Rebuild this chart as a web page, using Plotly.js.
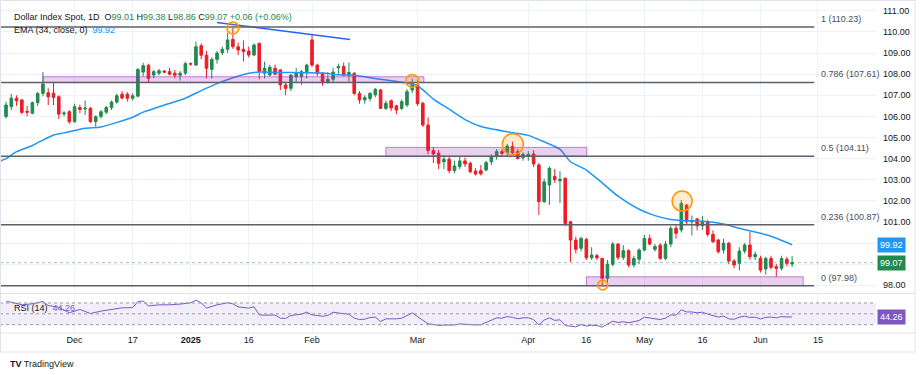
<!DOCTYPE html>
<html>
<head>
<meta charset="utf-8">
<script src="https://cdn.plot.ly/plotly-3.0.1.min.js"></script>
<style>html,body{margin:0;padding:0;background:#fff;}#chart{width:921px;height:375px;}</style>
</head>
<body>
<div id="chart"></div>
<script>
// ---------- DATA ----------
const dates = ["2024-11-13","2024-11-14","2024-11-15","2024-11-18","2024-11-19","2024-11-20","2024-11-21","2024-11-22","2024-11-25","2024-11-26","2024-11-27","2024-11-28","2024-11-29",
"2024-12-02","2024-12-03","2024-12-04","2024-12-05","2024-12-06","2024-12-09","2024-12-10","2024-12-11","2024-12-12","2024-12-13","2024-12-16","2024-12-17","2024-12-18","2024-12-19","2024-12-20","2024-12-23","2024-12-24","2024-12-25","2024-12-26","2024-12-27","2024-12-30","2024-12-31",
"2025-01-01","2025-01-02","2025-01-03","2025-01-06","2025-01-07","2025-01-08","2025-01-09","2025-01-10","2025-01-13","2025-01-14","2025-01-15","2025-01-16","2025-01-17","2025-01-20","2025-01-21","2025-01-22","2025-01-23","2025-01-24","2025-01-27","2025-01-28","2025-01-29","2025-01-30","2025-01-31",
"2025-02-03","2025-02-04","2025-02-05","2025-02-06","2025-02-07","2025-02-10","2025-02-11","2025-02-12","2025-02-13","2025-02-14","2025-02-17","2025-02-18","2025-02-19","2025-02-20","2025-02-21","2025-02-24","2025-02-25","2025-02-26","2025-02-27","2025-02-28",
"2025-03-03","2025-03-04","2025-03-05","2025-03-06","2025-03-07","2025-03-10","2025-03-11","2025-03-12","2025-03-13","2025-03-14","2025-03-17","2025-03-18","2025-03-19","2025-03-20","2025-03-21","2025-03-24","2025-03-25","2025-03-26","2025-03-27","2025-03-28","2025-03-31",
"2025-04-01","2025-04-02","2025-04-03","2025-04-04","2025-04-07","2025-04-08","2025-04-09","2025-04-10","2025-04-11","2025-04-14","2025-04-15","2025-04-16","2025-04-17","2025-04-18","2025-04-21","2025-04-22","2025-04-23","2025-04-24","2025-04-25","2025-04-28","2025-04-29","2025-04-30",
"2025-05-01","2025-05-02","2025-05-05","2025-05-06","2025-05-07","2025-05-08","2025-05-09","2025-05-12","2025-05-13","2025-05-14","2025-05-15","2025-05-16","2025-05-19","2025-05-20","2025-05-21","2025-05-22","2025-05-23","2025-05-26","2025-05-27","2025-05-28","2025-05-29","2025-05-30",
"2025-06-02","2025-06-03","2025-06-04","2025-06-05","2025-06-06","2025-06-09","2025-06-10"];

const open = [105.99,106.46,106.86,106.78,106.24,106.15,106.65,107.09,107.12,107.10,106.93,106.12,106.22,
105.75,106.42,106.35,106.38,105.75,106.00,106.20,106.42,106.68,107.05,107.05,106.86,106.96,108.10,108.42,107.96,108.05,108.15,108.12,108.05,107.95,108.05,
108.50,108.43,109.35,108.90,108.23,108.70,109.02,109.18,109.65,109.30,109.18,109.10,108.91,109.46,108.04,107.96,108.28,108.20,107.49,107.33,107.88,107.88,108.12,
109.62,108.43,108.04,107.64,107.76,108.30,108.36,107.96,108.04,107.09,106.78,106.85,107.02,107.25,106.38,106.74,106.50,106.38,106.54,107.25,
107.50,106.62,105.59,104.38,104.25,103.85,103.97,103.43,103.62,103.89,103.78,103.41,103.43,103.46,103.85,104.09,104.33,104.28,104.57,104.33,104.04,
104.10,104.22,103.70,101.96,102.75,103.15,102.95,103.07,101.01,100.14,99.75,100.17,99.30,99.40,99.27,98.33,98.99,99.95,99.32,99.64,98.96,99.23,
99.67,100.22,99.70,99.90,99.27,99.95,100.70,100.62,101.80,101.00,101.14,100.82,101.01,100.41,100.14,99.67,99.99,99.15,99.04,99.62,99.91,99.35,
99.27,98.77,99.27,98.88,98.80,99.23,99.01];

const high = [106.70,107.07,107.00,106.82,106.50,106.70,107.15,108.10,107.33,107.60,107.00,106.25,106.30,
106.60,106.55,106.75,106.45,106.05,106.30,106.50,106.75,107.08,107.20,107.15,107.10,108.28,108.54,108.50,108.20,108.25,108.20,108.30,108.20,108.15,108.60,
108.55,109.55,109.45,109.10,108.80,109.10,109.30,109.96,110.20,109.50,109.60,109.30,109.46,109.50,108.60,108.45,108.45,108.25,107.60,108.00,108.30,108.20,108.50,
109.86,108.50,108.10,108.10,108.30,108.50,108.55,108.55,108.10,107.20,107.00,107.15,107.35,107.30,106.75,106.80,106.55,106.80,107.30,107.78,
107.70,106.70,105.95,104.55,104.40,104.15,104.10,103.90,104.10,104.05,103.85,103.55,103.70,103.90,104.20,104.45,104.45,104.70,104.80,104.45,104.30,
104.35,104.40,103.80,103.05,103.63,103.50,103.40,103.10,101.05,100.30,100.30,100.25,99.80,99.50,99.30,99.20,100.05,100.00,99.90,99.70,99.40,99.75,
100.38,100.40,99.95,100.00,100.10,100.80,100.85,102.04,101.85,101.30,101.20,101.29,101.10,100.60,100.20,100.20,100.05,99.25,99.80,100.00,100.54,99.60,
99.40,99.35,99.40,99.00,99.40,99.35,99.38];

const low = [105.90,106.30,106.50,106.10,106.00,106.10,106.50,106.95,106.54,106.54,105.88,106.00,105.65,
105.70,106.15,106.07,105.70,105.51,105.90,106.10,106.30,106.60,106.80,106.70,106.75,106.90,107.90,107.60,107.80,107.95,108.05,107.95,107.80,107.70,107.95,
108.40,108.40,108.70,107.80,107.80,108.50,108.90,109.00,109.20,108.90,108.60,108.80,108.85,107.75,107.80,107.90,107.95,107.25,107.00,107.20,107.60,107.50,107.80,
108.35,107.90,107.45,107.55,107.60,108.00,107.90,107.65,107.00,106.60,106.60,106.70,106.90,106.35,106.30,106.25,106.10,106.30,106.45,107.10,
106.50,105.50,104.20,103.79,103.50,103.50,103.30,103.30,103.50,103.60,103.30,103.20,103.20,103.40,103.70,103.95,104.10,104.10,104.20,103.95,103.90,
103.90,103.60,101.33,101.90,101.80,102.85,101.90,100.80,99.11,99.50,99.60,99.20,99.20,99.20,98.00,98.10,98.90,99.20,99.20,98.85,98.85,99.00,
99.60,99.90,99.60,99.20,99.20,99.80,100.20,100.50,100.90,100.35,100.60,100.62,100.30,100.00,99.50,99.50,99.00,98.80,98.70,99.50,99.20,99.20,
98.60,98.50,98.75,98.40,98.70,98.90,98.86];

const close = [106.54,106.86,106.74,106.19,106.20,106.65,107.09,107.54,106.93,106.90,106.11,106.16,105.75,
106.46,106.33,106.39,105.75,105.99,106.22,106.42,106.68,106.98,106.87,106.86,106.98,108.23,108.40,107.80,108.12,108.16,108.10,108.00,107.95,108.05,108.50,
108.48,109.30,108.90,108.28,108.70,109.00,109.18,109.62,109.30,109.15,109.07,108.91,109.38,108.12,108.28,108.33,108.00,107.49,107.33,107.96,108.04,108.12,108.43,
108.43,108.04,107.64,107.76,108.10,108.36,107.96,108.08,107.09,106.78,106.90,107.09,107.28,106.38,106.62,106.40,106.30,106.70,107.17,107.57,
106.60,105.59,104.38,104.22,103.78,103.97,103.43,103.65,103.89,103.75,103.38,103.27,103.28,103.81,104.09,104.33,104.25,104.60,104.28,104.01,104.20,
104.20,103.75,101.96,102.90,103.54,103.00,103.02,100.93,100.14,99.70,100.22,99.30,99.43,99.30,98.33,98.99,99.95,99.32,99.64,98.96,99.27,99.67,
100.22,99.95,99.83,99.27,99.95,100.70,100.46,101.88,101.01,101.06,100.82,101.04,100.41,100.06,99.59,99.99,99.15,98.96,99.62,99.91,99.35,99.46,
98.72,99.27,98.85,98.80,99.27,99.04,99.07];

const emaDates = ["2024-11-11","2024-11-13","2024-11-15","2024-11-20","2024-11-26","2024-11-28","2024-12-04","2024-12-09","2024-12-17","2024-12-19","2024-12-25","2024-12-31",
"2025-01-03","2025-01-08","2025-01-13","2025-01-16","2025-01-20","2025-01-24","2025-01-30","2025-02-05","2025-02-10","2025-02-13","2025-02-19","2025-02-26",
"2025-03-03","2025-03-06","2025-03-11","2025-03-14","2025-03-19","2025-03-26","2025-04-01","2025-04-03","2025-04-09","2025-04-11","2025-04-16","2025-04-21",
"2025-04-24","2025-04-30","2025-05-05","2025-05-08","2025-05-13","2025-05-16","2025-05-20","2025-05-22","2025-05-27","2025-05-30","2025-06-04","2025-06-10"];
const emaValues = [103.80,104.00,104.33,104.62,105.12,105.22,105.44,105.50,105.96,106.20,106.54,106.86,
107.22,107.55,107.83,108.04,108.10,108.08,108.07,108.06,107.97,107.95,107.80,107.62,
107.45,106.82,106.34,105.85,105.52,105.27,105.10,104.90,104.44,103.85,103.46,102.85,
102.22,101.60,101.30,101.12,101.06,101.03,100.98,100.90,100.70,100.52,100.32,99.92];

const rsiDates = ["2024-11-13","2024-11-14","2024-11-18","2024-11-20","2024-11-22","2024-11-25","2024-11-27","2024-11-29","2024-12-03","2024-12-05","2024-12-09","2024-12-11","2024-12-13","2024-12-17","2024-12-18","2024-12-19","2024-12-20","2024-12-24","2024-12-26","2024-12-30","2024-12-31",
"2025-01-01","2025-01-02","2025-01-03","2025-01-06","2025-01-07","2025-01-08","2025-01-10","2025-01-13","2025-01-14","2025-01-15","2025-01-16","2025-01-17","2025-01-20","2025-01-21","2025-01-22","2025-01-23","2025-01-24","2025-01-27","2025-01-28","2025-01-29","2025-01-30","2025-01-31",
"2025-02-03","2025-02-04","2025-02-05","2025-02-06","2025-02-07","2025-02-10","2025-02-11","2025-02-12","2025-02-13","2025-02-14","2025-02-17","2025-02-18","2025-02-19","2025-02-20","2025-02-21","2025-02-24","2025-02-25","2025-02-26","2025-02-27","2025-02-28",
"2025-03-03","2025-03-04","2025-03-05","2025-03-06","2025-03-07","2025-03-10","2025-03-11","2025-03-12","2025-03-13","2025-03-14","2025-03-17","2025-03-18","2025-03-19","2025-03-20","2025-03-21","2025-03-24","2025-03-25","2025-03-26","2025-03-27","2025-03-28","2025-03-31",
"2025-04-01","2025-04-02","2025-04-03","2025-04-04","2025-04-07","2025-04-08","2025-04-09","2025-04-10","2025-04-11","2025-04-14","2025-04-15","2025-04-16","2025-04-17","2025-04-18","2025-04-21","2025-04-22","2025-04-23","2025-04-24","2025-04-25","2025-04-28","2025-04-29","2025-04-30",
"2025-05-01","2025-05-02","2025-05-05","2025-05-06","2025-05-07","2025-05-08","2025-05-09","2025-05-12","2025-05-13","2025-05-14","2025-05-15","2025-05-16","2025-05-19","2025-05-20","2025-05-21","2025-05-22","2025-05-23","2025-05-26","2025-05-27","2025-05-28","2025-05-29","2025-05-30",
"2025-06-02","2025-06-03","2025-06-04","2025-06-05","2025-06-06","2025-06-09","2025-06-10"];
const rsiValues = [72.5,71.5,66.6,68.5,72.8,65.4,62.0,52.0,58.0,50.6,55.0,58.0,61.0,61.5,72.5,73.5,64.5,66.6,66.6,68.0,69.5,
70.3,75.2,70.3,60.5,64.0,66.6,70.3,68.5,62.9,62.3,60.5,62.9,48.2,47.5,47.5,47.8,42.0,41.5,47.0,48.5,49.4,53.0,
48.0,47.0,45.5,47.0,53.0,51.5,50.6,49.4,42.0,39.5,40.2,43.2,44.0,35.9,40.8,40.2,40.8,42.0,47.0,51.8,
45.0,38.0,31.5,30.5,28.5,29.3,29.7,29.5,31.5,30.5,29.7,29.5,29.9,34.6,38.0,42.6,42.0,45.0,43.5,41.0,42.6,
42.8,39.5,29.7,38.5,42.6,38.0,39.0,28.5,26.6,26.0,30.3,27.5,29.0,28.5,25.5,31.0,36.5,34.0,35.5,33.5,36.0,37.7,
43.8,42.5,42.0,39.5,42.0,48.0,47.5,57.4,53.5,53.5,52.0,53.0,49.5,47.0,44.0,46.0,40.8,40.0,43.8,45.5,43.5,43.8,
40.5,43.5,44.0,42.6,45.0,44.3,44.26];

const fibLevels = [110.23, 107.61, 104.11, 100.87, 97.98];
const fibLabels = ["1 (110.23)", "0.786 (107.61)", "0.5 (104.11)", "0.236 (100.87)", "0 (97.98)"];
const tickDates = ["2024-12-02","2024-12-17","2025-01-01","2025-01-16","2025-02-03","2025-03-03","2025-04-01","2025-04-16","2025-05-01","2025-05-16","2025-06-02","2025-06-16 21:36"];
const tickText = ["Dec","17","<b>2025</b>","16","Feb","Mar","Apr","16","May","16","Jun","15"];
const priceTicks = [98,99,100,101,102,103,104,105,106,107,108,109,110,111];
const priceTickText = ["98.00","","","101.00","102.00","103.00","104.00","105.00","106.00","107.00","108.00","109.00","110.00","111.00"];
// zones: [start, end, low, high]
const zones = [["2024-11-22","2025-03-04 05:00",107.61,107.88],["2025-02-21","2025-04-16 02:24",104.11,104.53],["2025-04-16","2025-06-12 02:24",97.98,98.40]];
// highlighted pivots: [date, price, radius]
const pivots = [["2025-01-13",110.19,6],["2025-02-28",107.68,6.5],["2025-03-27 01:30",104.68,10.5],["2025-05-12 03:40",101.99,10],["2025-04-21 02:24",98.01,5]];
const trendLine = {x: ["2025-01-08","2025-02-12 05:00"], y: [110.45,109.64]};
const lastClose = 99.07, lastEma = 99.92, lastRsi = 44.26;

// ---------- STYLE ----------
const GREEN = "#218a4f", RED = "#ee1c25", BLUE = "#2196f3", PURPLE = "#7e57c2";
const FONT = "'Liberation Sans', Arial, sans-serif";
const FS = 9;
const GRID = "#eef1f7";
const fibEnd = "2025-06-16 04:48", fibLabelX = "2025-06-17 02:24";

const traces = [
  {type:"candlestick", x:dates, open:open, high:high, low:low, close:close, xaxis:"x", yaxis:"y",
   increasing:{line:{color:GREEN,width:1}, fillcolor:GREEN},
   decreasing:{line:{color:RED,width:1}, fillcolor:RED},
   whiskerwidth:0, hoverinfo:"skip", showlegend:false},
  {type:"scatter", mode:"lines", x:emaDates, y:emaValues, xaxis:"x", yaxis:"y",
   line:{color:BLUE,width:1.5,shape:"spline",smoothing:0.6}, hoverinfo:"skip", showlegend:false},
  {type:"scatter", mode:"lines", x:trendLine.x, y:trendLine.y, xaxis:"x", yaxis:"y",
   line:{color:"#2962ff",width:1.5}, hoverinfo:"skip", showlegend:false},
  {type:"scatter", mode:"lines", x:rsiDates, y:rsiValues, xaxis:"x", yaxis:"y2",
   line:{color:PURPLE,width:1}, hoverinfo:"skip", showlegend:false}
];

const shapes = [];
shapes.push({type:"rect", xref:"paper", yref:"y2", x0:0, x1:1, y0:30, y1:70, fillcolor:"rgba(126,87,194,0.10)", line:{width:0}, layer:"below"});
[70,50,30].forEach(v => shapes.push({type:"line", xref:"paper", yref:"y2", x0:0, x1:1, y0:v, y1:v, line:{color:"#9598a1", width:1, dash:"dot"}}));
shapes.push({type:"line", xref:"paper", yref:"y", x0:0, x1:1, y0:lastClose, y1:lastClose, line:{color:"rgba(33,138,79,0.45)", width:1, dash:"dot"}});
zones.forEach(z => shapes.push({type:"rect", xref:"x", yref:"y", x0:z[0], x1:z[1], y0:z[2], y1:z[3],
  fillcolor:"rgba(156,39,176,0.22)", line:{color:"rgba(156,39,176,0.55)", width:1}}));
fibLevels.forEach(v => shapes.push({type:"line", xref:"x", yref:"y", x0:"2024-11-01", x1:fibEnd, y0:v, y1:v, line:{color:"#5d606b", width:1.5}}));
pivots.forEach(p => shapes.push({type:"circle", xref:"x", yref:"y", xsizemode:"pixel", ysizemode:"pixel",
  xanchor:p[0], yanchor:p[1], x0:-p[2], x1:p[2], y0:-p[2], y1:p[2],
  fillcolor:"rgba(255,152,0,0.18)", line:{color:"#ff9800", width:1.5}}));
shapes.push({type:"line", xref:"paper", yref:"paper", x0:0, x1:915/876, y0:0.1193, y1:0.1193, line:{color:"#e0e3eb", width:1}});
shapes.push({type:"line", xref:"paper", yref:"paper", x0:0, x1:915/876, y0:0, y1:0, line:{color:"#e0e3eb", width:1}});
shapes.push({type:"rect", xref:"paper", yref:"paper", x0:0.5/876, x1:915/876, y0:-19/331, y1:1+1.5/331, line:{color:"#e0e3eb", width:1}, fillcolor:"rgba(0,0,0,0)"});

const annotations = [];
const G = s => `<span style="color:${GREEN}">${s}</span>`;
annotations.push({xref:"paper", yref:"paper", x:12/876, y:(333-17)/331, xanchor:"left", yanchor:"middle", showarrow:false,
  text:`Dollar Index Spot, 1D  O${G("99.01")} H${G("99.38")} L${G("98.86")} C${G("99.07")} ${G("+0.06 (+0.06%)")}`,
  font:{family:FONT, size:FS, color:"#131722"}});
annotations.push({xref:"paper", yref:"paper", x:12/876, y:(333-30)/331, xanchor:"left", yanchor:"middle", showarrow:false,
  text:`EMA (34, close, 0)  <span style="color:${BLUE}">${lastEma.toFixed(2)}</span>`,
  font:{family:FONT, size:FS, color:"#131722"}});
fibLevels.forEach((v,i) => annotations.push({xref:"x", yref:"y", x:fibLabelX, y:v, xanchor:"left", yanchor:"bottom", yshift:1, showarrow:false,
  text:fibLabels[i], font:{family:FONT, size:FS, color:"#4a4d57"}}));
annotations.push({xref:"paper", yref:"y", x:1, y:lastEma, xanchor:"left", yanchor:"middle", xshift:1, showarrow:false,
  text:lastEma.toFixed(2), bgcolor:BLUE, borderpad:2, font:{family:FONT, size:FS, color:"#fff"}});
annotations.push({xref:"paper", yref:"y", x:1, y:lastClose, xanchor:"left", yanchor:"middle", xshift:1, showarrow:false,
  text:lastClose.toFixed(2), bgcolor:GREEN, borderpad:2, font:{family:FONT, size:FS, color:"#fff"}});
annotations.push({xref:"paper", yref:"y2", x:1, y:lastRsi, xanchor:"left", yanchor:"middle", xshift:1, showarrow:false,
  text:lastRsi.toFixed(2), bgcolor:PURPLE, borderpad:2, font:{family:FONT, size:FS, color:"#fff"}});
annotations.push({xref:"paper", yref:"paper", x:12/876, y:(333-308)/331, xanchor:"left", yanchor:"middle", showarrow:false,
  text:`RSI (14)  <span style="color:${PURPLE}">${lastRsi.toFixed(2)}</span>`, font:{family:FONT, size:FS, color:"#131722"}});
annotations.push({xref:"paper", yref:"paper", x:8/876, y:(333-364)/331, xanchor:"left", yanchor:"middle", showarrow:false,
  text:`<b>TV</b> TradingView`, font:{family:FONT, size:FS, color:"#131722"}});

const layout = {
  width:921, height:375, margin:{l:0, r:45, t:2, b:42},
  paper_bgcolor:"#fff", plot_bgcolor:"#fff", showlegend:false, hovermode:false,
  font:{family:FONT, size:FS, color:"#131722"},
  xaxis:{type:"date", anchor:"y2", range:["2024-11-11 20:38","2025-07-01 21:36"],
    rangebreaks:[{bounds:["sat","mon"]}], rangeslider:{visible:false},
    tickmode:"array", tickvals:tickDates, ticktext:tickText, ticks:"", showgrid:true, gridcolor:GRID,
    showline:false, zeroline:false, tickfont:{family:FONT, size:FS, color:"#131722"}},
  yaxis:{domain:[41/331, 1], range:[97.68, 111.42], side:"right", anchor:"x",
    tickmode:"array", tickvals:priceTicks, ticktext:priceTickText, ticks:"", ticklabelstandoff:6,
    showgrid:true, gridcolor:GRID, zeroline:false, showline:false, tickfont:{family:FONT, size:FS, color:"#131722"}},
  yaxis2:{domain:[0, 38/331], range:[14.7, 84.7], side:"right", anchor:"x", showticklabels:false,
    showgrid:false, zeroline:false, showline:false, ticks:""},
  shapes:shapes, annotations:annotations
};

Plotly.newPlot("chart", traces, layout, {staticPlot:true, displayModeBar:false});
</script>
</body>
</html>
